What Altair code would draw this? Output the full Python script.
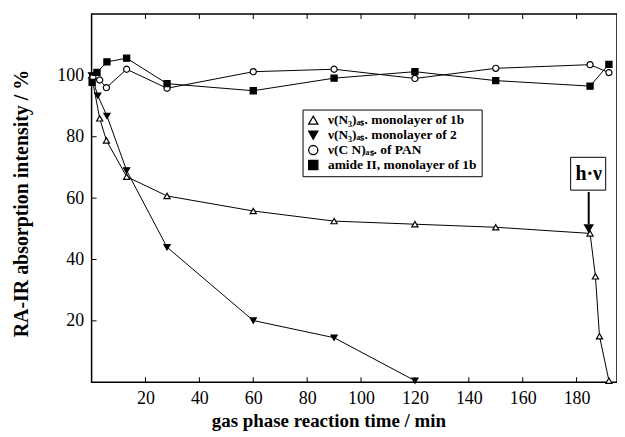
import altair as alt
import pandas as pd

# ---- data ----
t_1b = [0, 3, 5.5, 13, 28, 60, 90, 120, 150, 185, 187, 188.5, 192]
v_1b = [100, 86, 78.8, 67, 60.7, 55.8, 52.5, 51.5, 50.5, 48.5, 34.5, 15, 0.5]

t_2 = [0, 2.3, 5.7, 13, 28, 60, 90, 120]
v_2 = [100, 93.4, 86.8, 69, 44, 20.1, 14.5, 0.5]

t_pan = [0.5, 3, 5.5, 13, 28, 60, 90, 120, 150, 185, 192]
v_pan = [99.4, 98.5, 96, 102, 95.8, 101.2, 102, 99, 102.3, 103.5, 100.9]

t_amide = [0.2, 2, 5.7, 13, 28, 60, 90, 120, 150, 185, 192]
v_amide = [97.7, 101, 104.4, 105.6, 97.3, 95, 99.1, 101.2, 98.3, 96.5, 103.6]

names = [
    "ν(N₃)ₐₛ. monolayer of 1b",
    "ν(N₃)ₐₛ. monolayer of 2",
    "ν(C N)ₐₛ. of  PAN",
    "amide II, monolayer of 1b",
]
shapes = ["triangle-up", "triangle-down", "circle", "square"]
fills = ["white", "black", "white", "black"]
strokes = ["black", "black", "black", "black"]

x_ticks = [20, 40, 60, 80, 100, 120, 140, 160, 180]
y_ticks = [20, 40, 60, 80, 100]

# annotation (data coordinates)
hv_x = [184.5]
hv_box = [177.8, 190.8, 62.6, 73.3]
hv_arrow = [62.0, 51.5]
hv_head = [50.0]

rows = []
for name, ts, vs in zip(names, [t_1b, t_2, t_pan, t_amide], [v_1b, v_2, v_pan, v_amide]):
    for t, v in zip(ts, vs):
        rows.append({"series": name, "t": t, "v": v})
df = pd.DataFrame(rows)

W, H = 528, 370
FONT = "Liberation Serif"

xs = alt.Scale(domain=[0, 195], nice=False, zero=False)
ys = alt.Scale(domain=[0, 120], nice=False, zero=False)

base = alt.Chart(df)

lines = base.mark_line(color="black", strokeWidth=1).encode(
    x=alt.X("t:Q", scale=xs,
            axis=alt.Axis(values=x_ticks, ticks=False, domain=False, grid=False,
                          labelFont=FONT, labelFontSize=18, labelPadding=7,
                          labelColor="black",
                          title="gas phase reaction time / min",
                          titleFont=FONT, titleFontSize=19, titleFontWeight="bold",
                          titleColor="black", titleX=238, titleY=39,
                          titleBaseline="middle", titleAlign="center")),
    y=alt.Y("v:Q", scale=ys,
            axis=alt.Axis(values=y_ticks, ticks=False, domain=False, grid=False,
                          labelFont=FONT, labelFontSize=18, labelPadding=8,
                          labelColor="black",
                          title="RA-IR absorption intensity / %",
                          titleFont=FONT, titleFontSize=20, titleFontWeight="bold",
                          titleColor="black", titleX=-70, titleY=190,
                          titleBaseline="middle", titleAlign="center", titleAngle=270)),
    detail="series:N",
    order="t:Q",
)

leg = alt.Legend(title=None, orient="none", legendX=212, legendY=96,
                 strokeColor="black", padding=4, fillColor="white",
                 labelFont=FONT, labelFontSize=13.5, labelFontWeight="bold",
                 labelColor="black", symbolSize=85, symbolStrokeWidth=1.3,
                 rowPadding=0, labelOffset=8)

points = base.mark_point(filled=True, strokeWidth=1.2, size=38, opacity=1).encode(
    x=alt.X("t:Q", scale=xs),
    y=alt.Y("v:Q", scale=ys),
    shape=alt.Shape("series:N", scale=alt.Scale(domain=names, range=shapes), legend=leg),
    fill=alt.Fill("series:N", scale=alt.Scale(domain=names, range=fills), legend=leg),
    stroke=alt.Stroke("series:N", scale=alt.Scale(domain=names, range=strokes), legend=leg),
)

tick_df_x = pd.DataFrame({"t": x_ticks})
tick_df_y = pd.DataFrame({"v": y_ticks})
ticks_bottom = alt.Chart(tick_df_x).mark_rule(color="black", strokeWidth=1).encode(
    x=alt.X("t:Q", scale=xs), y=alt.value(H), y2=alt.value(H - 5))
ticks_top = alt.Chart(tick_df_x).mark_rule(color="black", strokeWidth=1).encode(
    x=alt.X("t:Q", scale=xs), y=alt.value(0), y2=alt.value(5))
ticks_left = alt.Chart(tick_df_y).mark_rule(color="black", strokeWidth=1).encode(
    y=alt.Y("v:Q", scale=ys), x=alt.value(0), x2=alt.value(5))

ann = pd.DataFrame({"x": hv_x, "x1": [hv_box[0]], "x2": [hv_box[1]],
                    "y1": [hv_box[2]], "y2": [hv_box[3]],
                    "a1": [hv_arrow[0]], "a2": [hv_arrow[1]], "head": hv_head,
                    "ty": [(hv_box[2] + hv_box[3]) / 2], "label": ["h·ν"]})
box = alt.Chart(ann).mark_rect(fill="white", stroke="black", strokeWidth=1).encode(
    x=alt.X("x1:Q", scale=xs), x2="x2:Q", y=alt.Y("y1:Q", scale=ys), y2="y2:Q")
txt = alt.Chart(ann).mark_text(font=FONT, fontSize=20, fontWeight="bold", color="black",
                               baseline="middle").encode(
    x=alt.X("x:Q", scale=xs), y=alt.Y("ty:Q", scale=ys), text="label:N")
arrow = alt.Chart(ann).mark_rule(color="black", strokeWidth=2).encode(
    x=alt.X("x:Q", scale=xs), y=alt.Y("a1:Q", scale=ys), y2="a2:Q")
head = alt.Chart(ann).mark_point(shape="triangle-down", filled=True, color="black",
                                 size=110, opacity=1).encode(
    x=alt.X("x:Q", scale=xs), y=alt.Y("head:Q", scale=ys))

chart = alt.layer(lines, points, ticks_bottom, ticks_top, ticks_left,
                  box, txt, arrow, head).properties(
    width=W, height=H,
    autosize=alt.AutoSizeParams(type="none"),
    padding={"left": 84, "top": 5, "right": 0, "bottom": 50},
    background="white",
).configure_view(stroke="black", strokeWidth=1.5).resolve_scale(
    shape="shared", fill="shared")

chart.save("out.html", embed_options={"renderer": "svg", "actions": False})
